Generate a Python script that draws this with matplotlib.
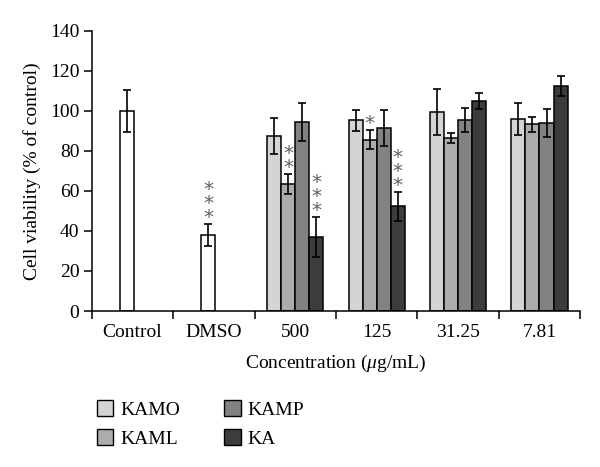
import numpy as np
import matplotlib
matplotlib.use("Agg")
import matplotlib.pyplot as plt
from matplotlib.patches import Patch

# %% data
groups = ["Control", "DMSO", "500", "125", "31.25", "7.81"]

ref_vals = [100, 38]
ref_err = [10.5, 5.5]

series = ["KAMO", "KAML", "KAMP", "KA"]
colors = ["#d4d4d4", "#acacac", "#828282", "#3c3c3c"]
kamo = [87.5, 95.3, 99.3, 95.7]
kamo_err = [9, 5.3, 11.5, 8]
kaml = [63.5, 85.5, 86.5, 93.3]
kaml_err = [5, 4.7, 2.3, 3.7]
kamp = [94.3, 91.5, 95.5, 94]
kamp_err = [9.5, 9, 6, 7]
ka = [37, 52.3, 105, 112.5]
ka_err = [10, 7.3, 4, 5]

# significance marks: (group index, series index or -1 for reference bars, number of stars)
stars = [(1, -1, 3), (2, 1, 2), (2, 3, 3), (3, 1, 1), (3, 3, 3)]

# %% plot
plt.rcParams["font.family"] = ["Liberation Serif", "DejaVu Serif"]
plt.rcParams["font.size"] = 14
plt.rcParams["mathtext.fontset"] = "custom"
plt.rcParams["mathtext.it"] = "Liberation Serif:italic"
plt.rcParams["mathtext.rm"] = "Liberation Serif"

fig = plt.figure(figsize=(6, 4.67), dpi=100)
ax = fig.add_axes([0.153, 0.334, 0.814, 0.6])

width = 0.172
x = np.arange(len(groups))
ebkw = dict(ecolor="black", elinewidth=1.2, capsize=2.6, capthick=1.2)

# white reference bars (Control, DMSO)
ref_x = x[:2] - 0.07
ax.bar(ref_x, ref_vals, width, color="white", edgecolor="black", linewidth=1.1,
       yerr=ref_err, error_kw=ebkw, zorder=2)

vals = [kamo, kaml, kamp, ka]
errs = [kamo_err, kaml_err, kamp_err, ka_err]
xs = x[2:]
for i, (v, e) in enumerate(zip(vals, errs)):
    ax.bar(xs + (i - 1.5) * width, v, width, color=colors[i], edgecolor="black",
           linewidth=1.1, yerr=e, error_kw=ebkw, zorder=2)

for g, s, n in stars:
    if s < 0:
        bx, top = ref_x[g], ref_vals[g] + ref_err[g]
    else:
        bx = xs[g - 2] + (s - 1.5) * width
        top = vals[s][g - 2] + errs[s][g - 2]
    ax.text(bx, top - 1.5, "\n".join(["*"] * n), ha="center", va="bottom",
            color="#606060", fontsize=14.5, family="DejaVu Sans", linespacing=0.66)

ax.set_xlim(-0.5, len(groups) - 0.5)
ax.set_ylim(0, 140)
ax.set_yticks(range(0, 141, 20))
ax.set_xticks(x)
ax.set_xticklabels(groups)
ax.set_xticks(np.arange(-0.5, len(groups), 1), minor=True)
ax.tick_params(axis="x", which="major", length=0, pad=9)
ax.tick_params(axis="x", which="minor", length=6, width=1.1, direction="out")
ax.tick_params(axis="y", length=6, width=1.1, direction="out", pad=3)
for side in ["top", "right"]:
    ax.spines[side].set_visible(False)
for side in ["left", "bottom"]:
    ax.spines[side].set_linewidth(1.1)

ax.set_ylabel("Cell viability (% of control)", labelpad=6)
ax.set_xlabel("Concentration ($\\mu$g/mL)", labelpad=9)

handles = [Patch(facecolor=c, edgecolor="black", linewidth=1.0, label=s)
           for c, s in zip(colors, series)]
fig.legend(handles=handles, ncol=2, loc="upper left", bbox_to_anchor=(0.148, 0.16),
           frameon=False, handlelength=0.85, handleheight=0.85, handletextpad=0.35,
           columnspacing=2.3, labelspacing=0.55, borderaxespad=0)

fig.savefig("out.png", dpi=100)
